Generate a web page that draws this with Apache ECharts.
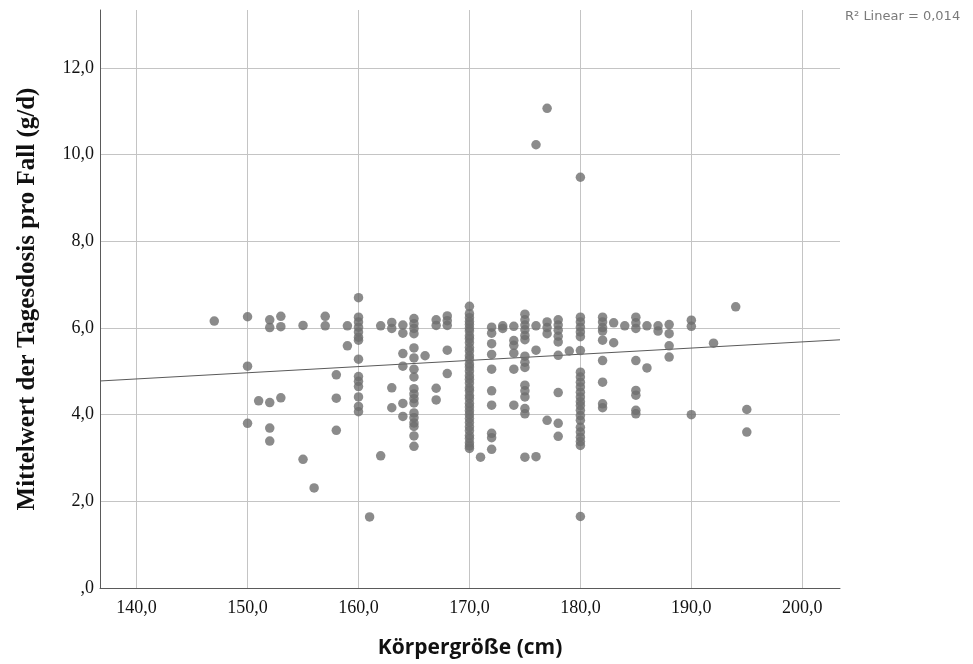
<!DOCTYPE html>
<html>
<head>
<meta charset="utf-8">
<script src="https://cdn.jsdelivr.net/npm/echarts@6/dist/echarts.min.js"></script>
<style>
  html, body { margin: 0; padding: 0; background: #ffffff; }
  #chart { width: 973px; height: 664px; }
</style>
</head>
<body>
<div id="chart"></div>
<script>
// Body height (cm) per group of cases
const heights = [147, 150, 151, 152, 153, 155, 156, 157, 158, 159, 160, 161, 162, 163, 164, 165, 166, 167, 168,
                 170, 171, 172, 173, 174, 175, 176, 177, 178, 179, 180, 182, 183, 184, 185, 186, 187, 188, 190, 192, 194, 195];

// Mean daily dose per case (g/d), one list per height above
const dosesByHeight = [
  [6.16],
  [6.26, 5.12, 3.80],
  [4.32],
  [6.19, 6.01, 4.28, 3.69, 3.39],
  [6.27, 6.03, 4.39],
  [6.06, 2.97],
  [2.31],
  [6.27, 6.05],
  [4.92, 4.38, 3.64],
  [6.05, 5.59],
  [6.70, 6.25, 6.14, 6.02, 5.91, 5.79, 5.72, 5.28, 4.88, 4.77, 4.65, 4.41, 4.19, 4.07],
  [1.64],
  [6.05, 3.05],
  [6.13, 5.99, 4.62, 4.16],
  [6.07, 5.88, 5.41, 5.12, 4.26, 3.96],
  [6.22, 6.10, 5.99, 5.87, 5.54, 5.31, 5.05, 4.87, 4.60, 4.48, 4.37, 4.27, 4.04, 3.93, 3.81, 3.73, 3.51, 3.27],
  [5.36],
  [6.19, 6.06, 4.61, 4.34],
  [6.28, 6.17, 6.06, 5.49, 4.95],
  [6.50, 6.33, 6.24, 6.15, 6.08, 6.00, 5.93, 5.82, 5.75, 5.66, 5.55, 5.47, 5.36, 5.28, 5.17, 5.10, 5.01, 4.90,
   4.82, 4.73, 4.62, 4.55, 4.44, 4.37, 4.26, 4.18, 4.09, 4.00, 3.91, 3.82, 3.72, 3.63, 3.52, 3.45, 3.35, 3.28, 3.22],
  [3.02],
  [6.02, 5.88, 5.64, 5.39, 5.05, 4.55, 4.22, 3.57, 3.47, 3.20],
  [6.05, 5.99],
  [6.04, 5.71, 5.60, 5.42, 5.05, 4.22],
  [6.32, 6.19, 6.07, 5.96, 5.83, 5.73, 5.35, 5.21, 5.09, 4.68, 4.55, 4.41, 4.14, 4.02, 3.02],
  [10.23, 6.05, 5.49, 3.03],
  [11.07, 6.14, 6.01, 5.87, 3.87],
  [6.19, 6.07, 5.95, 5.81, 5.68, 5.37, 4.51, 3.80, 3.50],
  [5.47],
  [9.48, 6.25, 6.14, 6.02, 5.91, 5.80, 5.48, 4.98, 4.87, 4.75, 4.64, 4.52, 4.41, 4.30, 4.21, 4.10,
   3.98, 3.87, 3.71, 3.60, 3.48, 3.38, 3.29, 1.65],
  [6.25, 6.14, 6.01, 5.93, 5.72, 5.25, 4.75, 4.25, 4.16],
  [6.12, 5.66],
  [6.05],
  [6.25, 6.12, 5.99, 5.25, 4.56, 4.45, 4.10, 4.02],
  [6.05, 5.08],
  [6.05, 5.93],
  [6.08, 5.87, 5.59, 5.33],
  [6.18, 6.04, 4.00],
  [5.65],
  [6.49],
  [4.12, 3.60]
];

// Linear fit of dose on height
const fitIntercept = 2.83;
const fitSlope = 0.01425;
const fitLabel = 'R\u00B2 Linear = 0,014';

// Axis ranges and tick values
const xRange = [136.7, 203.4];
const yRange = [0, 13.34];
const xTicks = [140, 150, 160, 170, 180, 190, 200];
const yTicks = [0, 2, 4, 6, 8, 10, 12];

const points = [];
heights.forEach((h, i) => dosesByHeight[i].forEach(d => points.push([h, d])));
const fitLine = xRange.map(x => [x, fitIntercept + fitSlope * x]);

const fmt = v => (v === 0 ? ',0' : v.toFixed(1).replace('.', ','));

const chart = echarts.init(document.getElementById('chart'), null, { renderer: 'canvas' });
chart.setOption({
  backgroundColor: '#ffffff',
  animation: false,
  grid: { left: 100, right: 133, top: 10, bottom: 76, containLabel: false },
  xAxis: {
    type: 'value',
    min: xRange[0],
    max: xRange[1],
    minInterval: 10,
    maxInterval: 10,
    name: 'Körpergröße (cm)',
    nameLocation: 'middle',
    nameGap: 50,
    nameTextStyle: { fontFamily: 'Open Sans', fontWeight: 'bold', fontSize: 21, color: '#111' },
    axisLine: { show: true, onZero: false, lineStyle: { color: '#5a5a5a', width: 1 } },
    axisTick: { show: false },
    axisLabel: {
      showMinLabel: false, showMaxLabel: false,
      margin: 11,
      fontFamily: 'Liberation Serif', fontSize: 18, color: '#111',
      formatter: v => (xTicks.includes(Math.round(v * 10) / 10) ? fmt(v) : '')
    },
    splitLine: { show: true, showMinLine: false, showMaxLine: false, lineStyle: { color: '#c4c4c4', width: 1 } }
  },
  yAxis: {
    type: 'value',
    min: yRange[0],
    max: yRange[1],
    interval: 2,
    name: 'Mittelwert der Tagesdosis pro Fall (g/d)',
    nameLocation: 'middle',
    nameRotate: 90,
    nameGap: 60,
    nameTextStyle: { fontFamily: 'Liberation Serif', fontWeight: 'bold', fontSize: 25, color: '#111' },
    axisLine: { show: true, lineStyle: { color: '#5a5a5a', width: 1 } },
    axisTick: { show: false },
    axisLabel: {
      showMaxLabel: false,
      margin: 6,
      fontFamily: 'Liberation Serif', fontSize: 18, color: '#111',
      formatter: v => (yTicks.includes(Math.round(v * 10) / 10) ? fmt(v) : '')
    },
    splitLine: { show: true, showMaxLine: false, lineStyle: { color: '#c4c4c4', width: 1 } }
  },
  graphic: [{
    type: 'text',
    left: 845,
    top: 10,
    style: { text: fitLabel, fontFamily: 'DejaVu Sans', fontSize: 13, fill: '#7a7a7a' }
  }],
  series: [
    {
      type: 'scatter',
      data: points,
      symbol: 'circle',
      symbolSize: 9.5,
      itemStyle: { color: '#6e6e6e' },
      z: 3
    },
    {
      type: 'line',
      data: fitLine,
      symbol: 'none',
      lineStyle: { color: '#5a5a5a', width: 1 },
      z: 2
    }
  ]
});
</script>
</body>
</html>
